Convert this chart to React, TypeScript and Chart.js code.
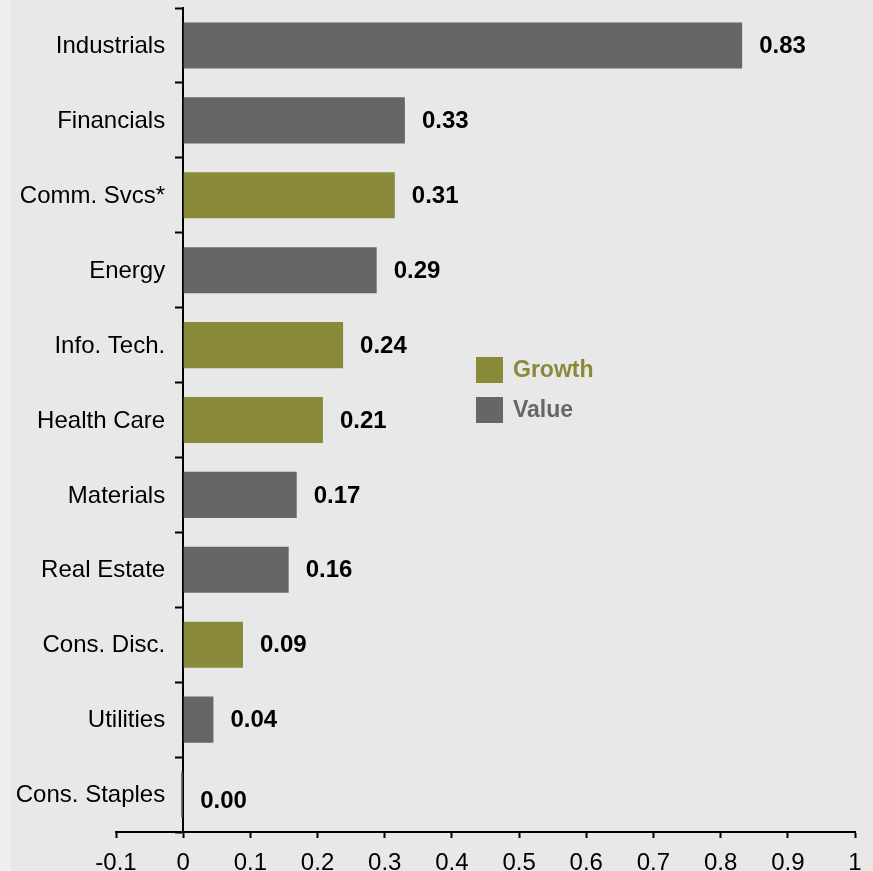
import React, { useEffect, useRef } from "react";
import { Chart, registerables } from "chart.js";

Chart.register(...registerables);

const categories = [
  "Industrials",
  "Financials",
  "Comm. Svcs*",
  "Energy",
  "Info. Tech.",
  "Health Care",
  "Materials",
  "Real Estate",
  "Cons. Disc.",
  "Utilities",
  "Cons. Staples",
];
const values = [0.832, 0.33, 0.315, 0.288, 0.238, 0.208, 0.169, 0.157, 0.089, 0.045, -0.003];
const valueLabels = ["0.83", "0.33", "0.31", "0.29", "0.24", "0.21", "0.17", "0.16", "0.09", "0.04", "0.00"];
const styleGroup = ["Value", "Value", "Growth", "Value", "Growth", "Growth", "Value", "Value", "Growth", "Value", "Value"];
const legendItems = ["Growth", "Value"];
const xTicks = [-0.1, 0, 0.1, 0.2, 0.3, 0.4, 0.5, 0.6, 0.7, 0.8, 0.9, 1];

const GROWTH = "#888a3a";
const VALUE = "#666666";
const FONT = "'Liberation Sans', Arial, sans-serif";

export default function App() {
  const ref = useRef<HTMLCanvasElement | null>(null);

  useEffect(() => {
    if (!ref.current) return;
    const labelPlugin = {
      id: "valueLabels",
      afterDatasetsDraw(chart: any) {
        const ctx = chart.ctx;
        const meta = chart.getDatasetMeta(0);
        const xScale = chart.scales.x;
        const yScale = chart.scales.y;
        const zero = xScale.getPixelForValue(0);
        ctx.save();
        // category labels
        ctx.font = `24px ${FONT}`;
        ctx.fillStyle = "#000000";
        ctx.textAlign = "right";
        ctx.textBaseline = "middle";
        categories.forEach((c, i) => {
          ctx.fillText(c, zero - 18, yScale.getPixelForValue(i) + 1);
        });
        // value labels
        ctx.font = `bold 24px ${FONT}`;
        ctx.textAlign = "left";
        meta.data.forEach((bar: any, i: number) => {
          const endX = Math.max(bar.x, zero);
          const dy = values[i] <= 0 ? 7 : 1;
          ctx.fillText(valueLabels[i], endX + 17, bar.y + dy);
        });
        // legend
        ctx.font = `bold 23px ${FONT}`;
        legendItems.forEach((label, k) => {
          const color = label === "Growth" ? GROWTH : VALUE;
          const y = 357 + k * 40;
          ctx.fillStyle = color;
          ctx.fillRect(476, y, 27, 26);
          ctx.fillText(label, 513, y + 14);
        });
        ctx.restore();
      },
    };

    const chart = new Chart(ref.current, {
      type: "bar",
      data: {
        labels: categories,
        datasets: [
          {
            data: values,
            backgroundColor: styleGroup.map((g) => (g === "Growth" ? GROWTH : VALUE)),
            barPercentage: 0.615,
            categoryPercentage: 1,
            borderWidth: 0,
          },
        ],
      },
      options: {
        indexAxis: "y",
        animation: false,
        responsive: false,
        maintainAspectRatio: false,
        layout: { padding: { left: 116, right: 18, top: 8, bottom: 0 } },
        plugins: {
          legend: { display: false },
          tooltip: { enabled: false },
        },
        scales: {
          x: {
            type: "linear",
            min: -0.1,
            max: 1,
            afterBuildTicks(scale: any) {
              scale.ticks = xTicks.map((v) => ({ value: v }));
            },
            afterFit(scale: any) {
              scale.height = 39;
              scale.paddingLeft = 0;
              scale.paddingRight = 0;
            },
            grid: {
              display: true,
              drawOnChartArea: false,
              drawTicks: true,
              tickLength: 6,
              tickWidth: 2,
              tickColor: "#000000",
              color: "#000000",
            },
            border: { display: true, color: "#000000", width: 2 },
            ticks: {
              color: "#000000",
              font: { family: FONT, size: 24 },
              padding: 11,
              maxRotation: 0,
              autoSkip: false,
              callback: (v: any) => String(Math.round(Number(v) * 10) / 10),
            },
          },
          y: {
            type: "category",
            position: { x: 0 } as any,
            afterFit(scale: any) {
              scale.paddingTop = 0;
              scale.paddingBottom = 0;
            },
            grid: {
              display: true,
              offset: true,
              drawOnChartArea: false,
              drawTicks: true,
              tickLength: 7,
              tickWidth: 2,
              tickColor: "#000000",
              color: "#000000",
            },
            border: { display: true, color: "#000000", width: 2 },
            ticks: {
              display: false,
              autoSkip: false,
              padding: 0,
            },
          },
        },
      },
      plugins: [labelPlugin],
    });
    return () => chart.destroy();
  }, []);

  return (
    <div
      style={{
        position: "fixed",
        left: 0,
        top: 0,
        width: 873,
        height: 871,
        background: "#efefef",
      }}
    >
      <div
        style={{
          position: "absolute",
          left: 11,
          top: 0,
          width: 862,
          height: 871,
          background: "#e8e8e8",
        }}
      />
      <canvas
        ref={ref}
        width={873}
        height={871}
        style={{ position: "absolute", left: 0, top: 0, width: 873, height: 871 }}
      />
    </div>
  );
}
